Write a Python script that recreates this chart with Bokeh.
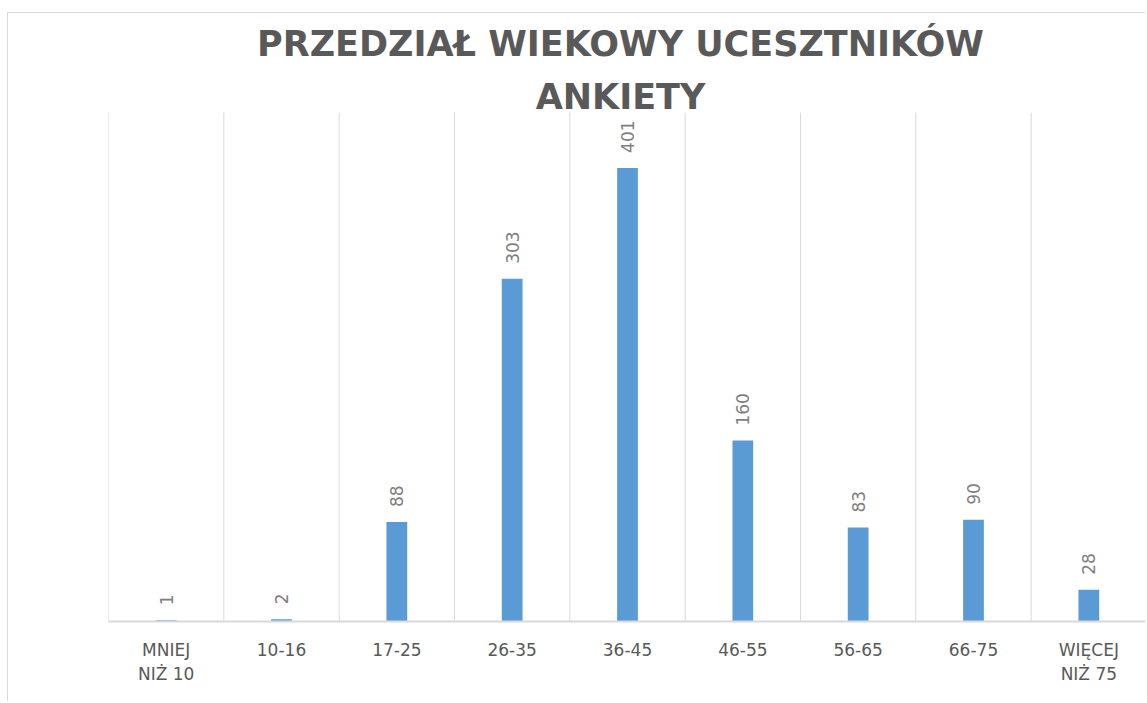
from bokeh.plotting import figure
from bokeh.models import ColumnDataSource, FixedTicker, Range1d
from bokeh.core.properties import value
from bokeh.embed import file_html
from bokeh.resources import INLINE

categories = ["MNIEJ\nNIŻ 10", "10-16", "17-25", "26-35", "36-45", "46-55", "56-65", "66-75", "WIĘCEJ\nNIŻ 75"]
counts = [1, 2, 88, 303, 401, 160, 83, 90, 28]
title_lines = ["PRZEDZIAŁ WIEKOWY UCESZTNIKÓW", "ANKIETY"]

n = len(categories)
centers = [i + 0.5 for i in range(n)]
y_max = 450

# layout (screen pixels on the page)
FIG_LEFT, FIG_TOP = 7, 12
FRAME_LEFT, FRAME_RIGHT = 108, 1146
PLOT_TOP, BASELINE = 112, 621
W, H = 1138, 689
content_top = FIG_TOP + 1
px_per_unit = (BASELINE - PLOT_TOP) / y_max
y_top = y_max + (PLOT_TOP - content_top) / px_per_unit
px_per_cat = (FRAME_RIGHT - FRAME_LEFT) / n

def ydata(sy):
    return (BASELINE - sy) / px_per_unit

label_pad = 15 / px_per_unit

src = ColumnDataSource(dict(
    x=centers,
    top=counts,
    ly=[c + label_pad for c in counts],
    txt=[str(c) for c in counts],
))

p = figure(width=W, height=H, output_backend="svg", toolbar_location=None,
           x_range=Range1d(0, n), y_range=Range1d(0, y_top),
           y_axis_location=None, min_border_left=FRAME_LEFT - FIG_LEFT - 1,
           min_border_top=0, min_border_bottom=content_top + H - BASELINE,
           min_border_right=0, outline_line_color=None)
p.margin = (FIG_TOP, 0, 0, FIG_LEFT)
p.styles = {"border-left": "1px solid #d9d9d9", "border-top": "1px solid #d9d9d9"}

# category separator lines (vertical gridlines)
bounds = list(range(n + 1))
p.segment(x0=bounds, y0=[0] * len(bounds), x1=bounds, y1=[y_max] * len(bounds),
          line_color="#d9d9d9", line_width=1)

# title
title_x = (620 - FRAME_LEFT) / px_per_cat
p.text(x=[title_x] * 2, y=[ydata(43), ydata(96)], text=title_lines,
       text_align="center", text_baseline="alphabetic",
       text_font=value("DejaVu Sans"), text_font_style="bold",
       text_font_size="35px", text_color="#595959")

p.vbar(x="x", top="top", width=0.18, source=src, fill_color="#5B9BD5", line_color=None)
p.text(x="x", y="ly", text="txt", source=src, angle=1.5707963, text_align="left",
       text_baseline="middle", text_font=value("DejaVu Sans"), text_font_size="17px",
       text_color="#7f7f7f")

p.xgrid.visible = False
p.ygrid.visible = False

ax = p.xaxis[0]
ax.ticker = FixedTicker(ticks=centers)
ax.major_label_overrides = {c: lab for c, lab in zip(centers, categories)}
ax.axis_line_color = "#d9d9d9"
ax.axis_line_width = 2
ax.major_tick_line_color = None
ax.minor_tick_line_color = None
ax.major_tick_out = 0
ax.major_label_standoff = 18
ax.major_label_text_font = "DejaVu Sans"
ax.major_label_text_font_size = "17px"
ax.major_label_text_color = "#595959"

open("out.html", "w").write(file_html(p, INLINE))
